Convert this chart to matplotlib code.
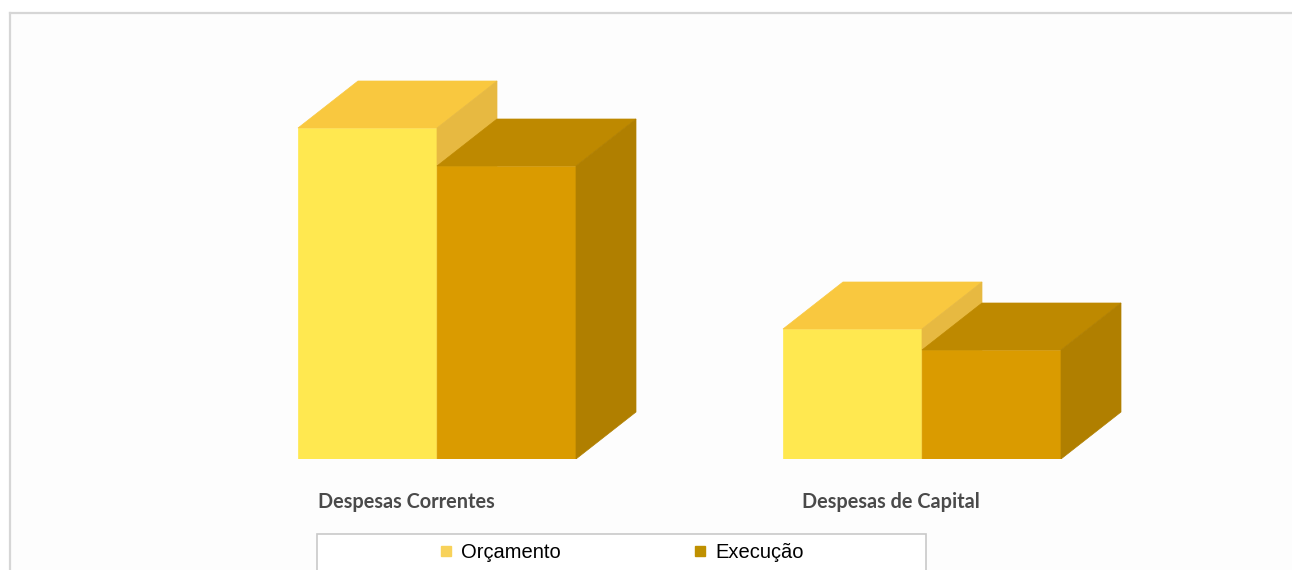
import matplotlib
matplotlib.use('Agg')
import matplotlib.pyplot as plt
from matplotlib.patches import Polygon, Rectangle
from matplotlib.lines import Line2D

categorias = ['Despesas Correntes', 'Despesas de Capital']
series = ['Orçamento', 'Execução']
orcamento = [331, 130]
execucao = [293, 109]

# cores: frente, topo, lado
cores = {
    'Orçamento': ('#FFE850', '#F9C83F', '#E7B941'),
    'Execução': ('#DA9B00', '#BE8900', '#B07F00'),
}
cores_legenda = ['#F8D25A', '#BF9000']

largura = 139 / 485
dx = 60 / 485
dy = 47


def caixa(ax, x0, h, frente, topo, lado, z):
    ax.bar(x0, h, width=largura, align='edge', color=frente,
           edgecolor=frente, linewidth=0.5, zorder=z)
    ax.add_patch(Polygon([(x0, h), (x0 + largura, h),
                          (x0 + largura + dx, h + dy), (x0 + dx, h + dy)],
                         closed=True, facecolor=topo, edgecolor=topo,
                         linewidth=0.5, zorder=z))
    ax.add_patch(Polygon([(x0 + largura, 0), (x0 + largura + dx, dy),
                          (x0 + largura + dx, h + dy), (x0 + largura, h)],
                         closed=True, facecolor=lado, edgecolor=lado,
                         linewidth=0.5, zorder=z))


fig = plt.figure(figsize=(12.92, 5.70), dpi=100)
fig.patch.set_facecolor('white')

# moldura cinza clara
fig.add_artist(Rectangle((10 / 1292, 0), 1, 1 - 13 / 570, transform=fig.transFigure,
                         facecolor='#FDFDFD', edgecolor='none', zorder=0))
fig.add_artist(Line2D([10 / 1292, 1], [1 - 13 / 570, 1 - 13 / 570],
                      transform=fig.transFigure, color='#D6D6D6', linewidth=1.6))
fig.add_artist(Line2D([10 / 1292, 10 / 1292], [0, 1 - 13 / 570],
                      transform=fig.transFigure, color='#D6D6D6', linewidth=1.6))

ax = fig.add_axes([0, 111 / 570, 1, 459 / 570])
ax.set_xlim(-298 / 485, 994 / 485)
ax.set_ylim(0, 459)
ax.axis('off')

z = 2
for i, cat in enumerate(categorias):
    for j, (nome, vals) in enumerate(zip(series, [orcamento, execucao])):
        frente, topo, lado = cores[nome]
        caixa(ax, i + j * largura, vals[i], frente, topo, lado, z)
        z += 1
    ax.text(i + 0.2227, -49, cat, ha='center', va='baseline',
            fontsize=14.3, fontweight='bold', family='Lato', color='#4A4A4A',
            clip_on=False)

# caixa da legenda
fig.add_artist(Rectangle((317 / 1292, -0.05), (926 - 317) / 1292, 0.05 + 1 - 534 / 570,
                         transform=fig.transFigure, facecolor='white',
                         edgecolor='#C9C9C9', linewidth=1.2, zorder=1))
handles = [Line2D([], [], marker='s', linestyle='none', markersize=7.5,
                  markerfacecolor=c, markeredgecolor=c) for c in cores_legenda]
fig.legend(handles, series, loc='center', bbox_to_anchor=(622 / 1292, 1 - 553 / 570),
           ncol=2, frameon=False, handlelength=0.6,
           handletextpad=0.45, columnspacing=6.6, borderpad=0,
           prop={'family': 'Liberation Sans', 'size': 14.5})

fig.savefig('out.png', dpi=100)
